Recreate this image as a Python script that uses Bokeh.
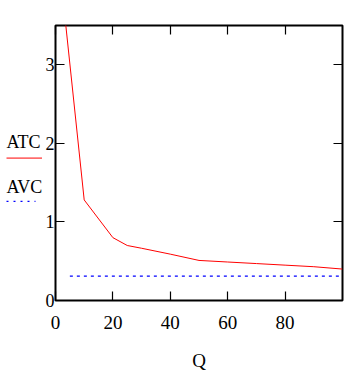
from bokeh.plotting import figure
from bokeh.models import Range1d, LinearAxis, FixedTicker
from bokeh.layouts import row
from bokeh.core.properties import value
from bokeh.embed import file_html
from bokeh.resources import INLINE

# Data
q_atc = [1, 10, 20, 25, 30, 40, 50, 60, 70, 80, 90, 100]
atc = [4.4, 1.28, 0.80, 0.70, 0.665, 0.59, 0.51, 0.49, 0.47, 0.45, 0.43, 0.40]
q_avc = [5, 100]
avc = [0.31, 0.31]

x_ticks = [0, 20, 40, 60, 80]
y_ticks = [0, 1, 2, 3]
x_label = "Q"
series_names = ["ATC", "AVC"]
series_colors = ["red", "blue"]
series_dashes = ["solid", "2 5"]

FONT = "Liberation Serif"
H = 373
LW = 42                      # width of the legend strip at the left
W = 360 - LW                 # main figure width
FL, FT, FR, FB = 55 - LW, 25, 342 - LW, 305   # frame box in main-figure pixels
X0, X1, Y0, Y1 = 0, 100, 0, 3.5

# ---- legend strip (Mathcad style: series name above its line sample)
# its frame is aligned with the main frame vertically, so y is in page pixels FT..FB
leg = figure(width=LW, height=H, output_backend="svg", toolbar_location=None,
             x_range=Range1d(0, LW), y_range=Range1d(FB, FT),
             x_axis_type=None, y_axis_type=None,
             min_border=0, min_border_left=0, min_border_right=0,
             min_border_top=0, min_border_bottom=0)
leg.grid.visible = False
leg.outline_line_color = None
leg.background_fill_color = "white"
leg.border_fill_color = "white"
text_y = [144, 189]
line_y = [160, 204]
line_x1 = [42, 35]
for name, col, dash, ty, ly, x1 in zip(series_names, series_colors, series_dashes,
                                       text_y, line_y, line_x1):
    leg.text(x=[6], y=[ty], text=[name], text_font=value(FONT),
             text_font_size="18px", text_color="black",
             text_baseline="alphabetic", text_align="left")
    leg.segment(x0=[6], y0=[ly], x1=[x1], y1=[ly], line_color=col,
                line_width=1 if dash == "solid" else 1.2, line_dash=dash)

# ---- main plot
p = figure(width=W, height=H, output_backend="svg", toolbar_location=None,
           x_range=Range1d(X0, X1), y_range=Range1d(Y0, Y1),
           x_axis_type=None, y_axis_type=None,
           min_border_left=FL, min_border_right=W - FR,
           min_border_top=FT, min_border_bottom=H - FB)
p.grid.visible = False
p.outline_line_color = "black"
p.outline_line_width = 2
p.background_fill_color = "white"
p.border_fill_color = "white"

def make_axis(ticks, labels=True):
    if labels:
        ax = LinearAxis(ticker=FixedTicker(ticks=ticks))
    else:
        ax = LinearAxis(ticker=FixedTicker(ticks=[], minor_ticks=ticks))
    ax.axis_line_color = None
    ax.major_tick_in = 9
    ax.major_tick_out = 0
    ax.minor_tick_in = 0 if labels else 9
    ax.minor_tick_out = 0
    ax.major_tick_line_color = "black"
    ax.minor_tick_line_color = "black"
    ax.major_tick_line_width = 1.2
    ax.minor_tick_line_width = 1.2
    ax.major_label_text_font = FONT
    ax.major_label_text_font_size = "19px"
    ax.major_label_text_color = "black"
    return ax

bottom = make_axis(x_ticks)
bottom.major_label_standoff = 15
bottom.axis_label = x_label
bottom.axis_label_text_font = FONT
bottom.axis_label_text_font_size = "19px"
bottom.axis_label_text_font_style = "normal"
bottom.axis_label_text_color = "black"
bottom.axis_label_standoff = 18
p.add_layout(bottom, "below")

left = make_axis(y_ticks)
left.major_label_text_font_size = "18px"
left.major_label_standoff = 1
p.add_layout(left, "left")

top = make_axis(x_ticks, labels=False)
p.add_layout(top, "above")
right = make_axis(y_ticks, labels=False)
p.add_layout(right, "right")

p.line(q_atc, atc, line_color=series_colors[0], line_width=1)
p.line(q_avc, avc, line_color=series_colors[1], line_width=1.2, line_dash="3 4")

layout = row(leg, p, spacing=0)
open("out.html", "w").write(file_html(layout, INLINE))
